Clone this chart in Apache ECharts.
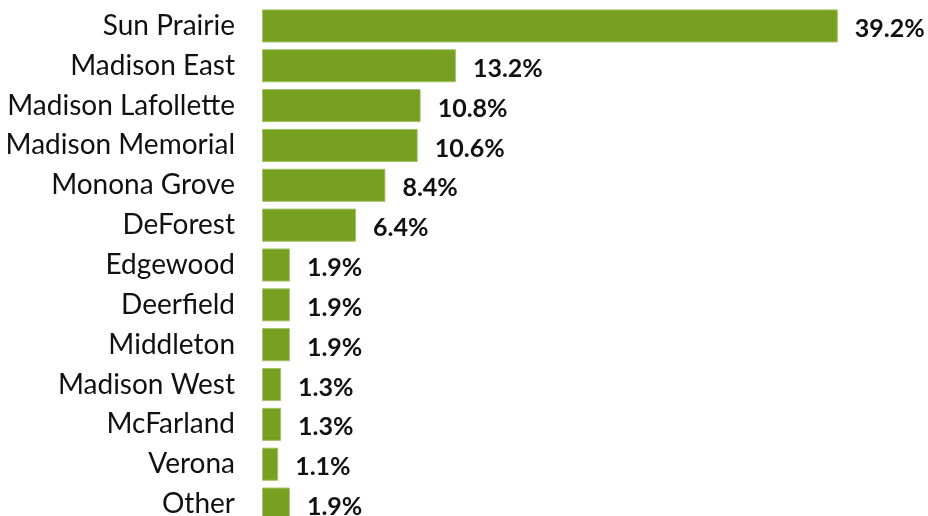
<!DOCTYPE html>
<html><head><meta charset="utf-8">
<script src="https://cdn.jsdelivr.net/npm/echarts@6/dist/echarts.min.js"></script>
<style>html,body{margin:0;padding:0;background:#fff;overflow:hidden;width:928px;height:516px}#c{width:928px;height:524px}</style>
</head><body><div id="c"></div>
<script>
const categories = ["Sun Prairie","Madison East","Madison Lafollette","Madison Memorial","Monona Grove","DeForest","Edgewood","Deerfield","Middleton","Madison West","McFarland","Verona","Other"];
const values = [39.2,13.2,10.8,10.6,8.4,6.4,1.9,1.9,1.9,1.3,1.3,1.1,1.9];

const chart = echarts.init(document.getElementById('c'), null, {renderer:'canvas'});
chart.setOption({
  animation:false,
  grid:{left:262, top:6, right:5, bottom:0, containLabel:false},
  xAxis:{type:'value', min:0, max:45, show:false},
  yAxis:{type:'category', data:categories, inverse:true,
    axisLine:{show:false}, axisTick:{show:false},
    axisLabel:{margin:27, fontSize:28, color:'#111', fontFamily:'Lato'}},
  series:[{type:'bar', data:values, barCategoryGap:'17%',
    itemStyle:{color:'#77A021', borderColor:'#a3c267', borderWidth:1},
    label:{show:true, position:'right', distance:17, formatter:p=>p.value.toFixed(1)+'%',
      fontSize:25, fontWeight:'bold', color:'#111', fontFamily:'Lato', offset:[0,3]}}]
});
</script></body></html>
